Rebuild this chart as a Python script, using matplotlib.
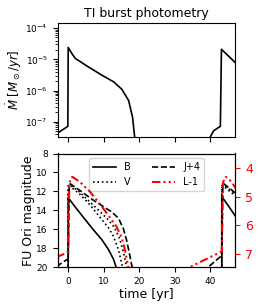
import numpy as np
import matplotlib
matplotlib.use("Agg")
import matplotlib.pyplot as plt

# ==== data ====
# accretion rate (top panel)
t_mdot = [-3.2, -0.1, 0.0, 1.0, 2.0, 5.7, 9.5, 12.8, 15.1, 17.0, 18.1, 18.7, 18.9,
          39.6, 39.9, 40.9, 42.8, 43.1, 43.7, 47.2]
mdot = [4.2e-8, 7.2e-8, 2.4e-5, 1.55e-5, 1.07e-5, 5.7e-6, 3.1e-6, 1.9e-6, 1.1e-6, 4.8e-7, 1.4e-7, 3.2e-8, 1e-9,
        1e-9, 3.2e-8, 5.2e-8, 7.2e-8, 2.1e-5, 1.8e-5, 7.5e-6]

# magnitudes (bottom panel)
t_B = [-3.2, 0.0, 0.0, 0.5, 1.9, 4.0, 7.0, 9.4, 11.3, 12.7, 13.6, 14.0,
       43.2, 43.2, 43.7, 45.2, 47.2]
mag_B = [21, 21, 12.6, 12.9, 13.6, 14.6, 16.0, 17.05, 18.1, 19.1, 20.1, 21,
         21, 12.5, 12.8, 13.6, 14.7]

t_V = [-3.2, 0.0, 0.0, 0.5, 3.3, 6.1, 8.9, 11.3, 12.7, 14.1, 15.0, 15.5, 16.0,
       43.2, 43.2, 43.7, 46.5, 47.2]
mag_V = [21, 21, 11.6, 11.45, 12.3, 13.4, 14.7, 15.8, 16.7, 18.1, 19.5, 20.2, 21,
         21, 11.6, 11.45, 12.3, 12.5]

# second dotted curve (no legend entry)
t_V2 = [-3.2, 0.0, 0.0, 0.5, 3.3, 6.1, 8.9, 11.3, 13.0, 14.5, 15.6, 16.3, 16.6, 17.0,
        43.2, 43.2, 43.7, 46.5, 47.2]
mag_V2 = [21, 21, 11.4, 11.3, 12.1, 13.1, 14.1, 15.0, 15.8, 17.0, 18.5, 19.7, 20.3, 21,
          21, 11.4, 11.3, 12.1, 12.3]

t_J = [-3.3, -0.45, 0.0, 0.3, 0.6, 3.3, 7.0, 9.9, 12.2, 14.1, 15.5, 16.4, 17.2, 18.0, 18.5,
       38.0, 39.0, 42.7, 43.2, 43.5, 43.8, 46.5, 47.2]
mag_J4 = [19.9, 19.2, 19.1, 11.3, 11.2, 11.9, 12.9, 13.6, 14.15, 14.8, 15.9, 17.1, 18.5, 20.0, 21,
          21, 20.1, 18.9, 18.8, 11.3, 11.2, 12.0, 12.2]

t_L = [-3.3, -0.45, 0.0, 0.3, 0.7, 1.2, 2.0, 3.3, 6.1, 8.9, 11.7, 13.6, 15.0, 16.0, 16.7, 17.1, 17.5,
       32.5, 33.4, 42.7, 43.2, 43.5, 43.9, 44.3, 45.5, 46.5, 47.2]
mag_L1 = [7.12, 6.97, 6.92, 4.55, 4.35, 4.30, 4.37, 4.48, 4.82, 5.25, 5.72, 6.05, 6.42, 6.88, 7.35, 7.58, 7.8,
          7.8, 7.52, 6.95, 6.92, 4.55, 4.35, 4.30, 4.42, 4.58, 4.72]

xticks = [0, 10, 20, 30, 40]
left_ticks = [8, 10, 12, 14, 16, 18, 20]
right_ticks = [4, 5, 6, 7]

# ==== plot ====
lw = 1.2
fig = plt.figure(figsize=(2.58, 3.07), dpi=100)
ax1 = fig.add_axes([0.223, 0.554, 0.689, 0.371])
ax2 = fig.add_axes([0.223, 0.129, 0.689, 0.371])

ax1.plot(t_mdot, mdot, color='black', linewidth=lw)
ax1.set_yscale('log')
ax1.set_ylim(3.3e-8, 1.45e-4)
ax1.set_xlim(-3, 47)
ax1.set_xticks(xticks)
ax1.set_xticklabels([])
ax1.set_ylabel(r'$\dot{M}\ [M_\odot/yr]$', fontsize=8.5, labelpad=1)
ax1.set_title('TI burst photometry', fontsize=9, pad=4)
ax1.tick_params(labelsize=6.5)

hB, = ax2.plot(t_B, mag_B, color='black', linestyle='-', linewidth=lw, label='B')
hV, = ax2.plot(t_V, mag_V, color='black', linestyle=':', linewidth=lw, label='V')
ax2.plot(t_V2, mag_V2, color='black', linestyle=':', linewidth=lw)
hJ, = ax2.plot(t_J, mag_J4, color='black', linestyle='--', linewidth=lw, label='J+4')
ax2.set_xlim(-3, 47)
ax2.set_ylim(20, 8)
ax2.set_xticks(xticks)
ax2.set_yticks(left_ticks)
ax2.tick_params(labelsize=6.5)
ax2.set_xlabel('time [yr]', fontsize=9, labelpad=1)
ax2.set_ylabel('FU Ori magnitude', fontsize=9, labelpad=1)

ax3 = ax2.twinx()
hL, = ax3.plot(t_L, mag_L1, color='red', linestyle=(0, (4, 1.5, 1, 1.5, 1, 1.5)),
               linewidth=1.5, label='L-1')
ax3.set_ylim(7.48, 3.48)
ax3.set_yticks(right_ticks)
ax3.tick_params(axis='y', colors='red', labelsize=9)

ax2.legend(handles=[hB, hV, hJ, hL], loc='upper center', ncol=2, fontsize=7,
           handlelength=2.4, columnspacing=2.2)

plt.savefig('out.png', dpi=100)
